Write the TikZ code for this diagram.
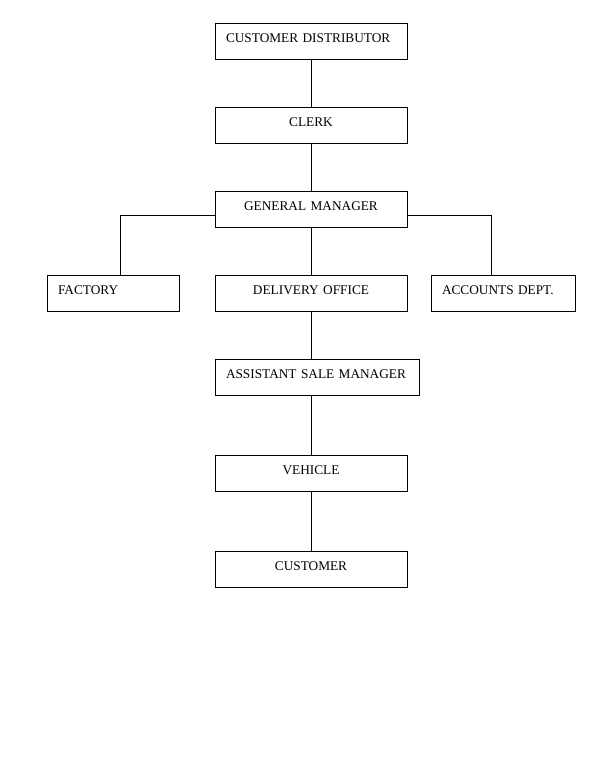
\documentclass[tikz,border=0pt]{standalone}
\usepackage{fontspec}
\setmainfont{Liberation Serif}
\usetikzlibrary{positioning}
\begin{document}
\begin{tikzpicture}[
                x=1pt, y=-1pt,
                line width=0.8pt,
                every node/.style={font=\fontsize{13.3}{15}\selectfont},
                box/.style={draw, rectangle, outer sep=0pt, inner xsep=11pt, inner ysep=0pt,
                    text width=#1, text height=19pt, text depth=17pt},
                leftbox/.style={box=#1, align=left},
                midbox/.style={box=#1, align=center}
                ]
                \useasboundingbox (0,0) rectangle (600,780);
                % Chain of offices
                \node[leftbox=170pt] (distributor) at (311,41) {CUSTOMER DISTRIBUTOR};
                \node[midbox=170pt, below=48pt of distributor] (clerk) {CLERK};
                \node[midbox=170pt, below=48pt of clerk] (manager) {GENERAL MANAGER};
                \node[midbox=170pt, below=48pt of manager] (delivery) {DELIVERY OFFICE};
                \node[leftbox=110pt, left=36pt of delivery] (factory) {FACTORY};
                \node[leftbox=122pt, right=24pt of delivery] (accounts) {ACCOUNTS DEPT.};
                \node[leftbox=182pt, below=48pt of delivery.south west, anchor=north west] (assistant) {ASSISTANT SALE MANAGER};
                \node[midbox=170pt, below=60pt of assistant.south west, anchor=north west] (vehicle) {VEHICLE};
                \node[midbox=170pt, below=60pt of vehicle] (customer) {CUSTOMER};
                % Connectors
                \draw (distributor) -- (clerk);
                \draw (clerk) -- (manager);
                \draw (manager) -- (delivery);
                \draw ([yshift=-6pt]manager.west) -| ([xshift=7pt]factory.north);
                \draw ([yshift=-6pt]manager.east) -| ([xshift=-12pt]accounts.north);
                \draw (delivery.south) -- (delivery.south |- assistant.north);
                \draw (vehicle.north |- assistant.south) -- (vehicle.north);
                \draw (vehicle) -- (customer);
            \end{tikzpicture}
\end{document}
